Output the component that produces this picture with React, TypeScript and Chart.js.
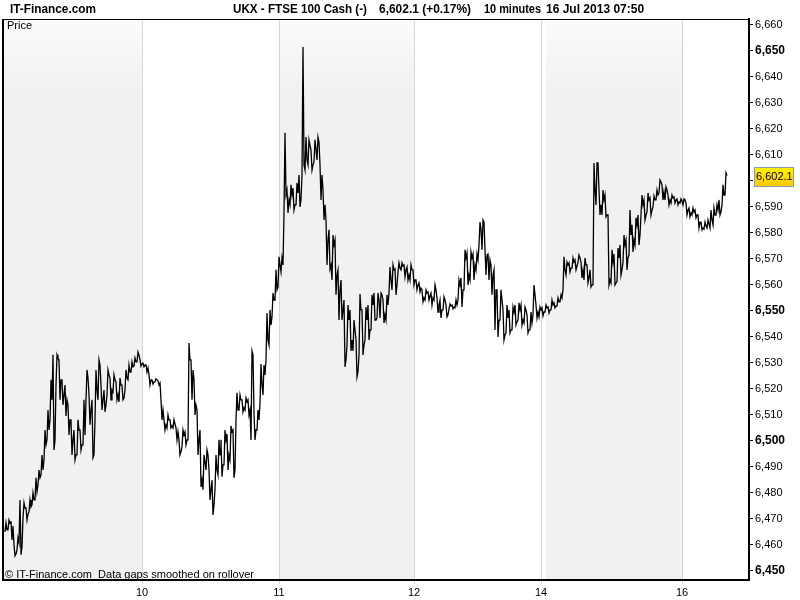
import React, { useEffect, useRef } from 'react';
import { Chart, registerables } from 'chart.js';

Chart.register(...registerables);

// ---- data (10-minute bars, one sample every STEP bars) ----
const STEP = 3;
const dayStartBars = [2, 140, 278, 413, 539, 680];

// closes
const jul09 = [6465.8, 6468.5, 6467.3, 6456.5, 6460.8, 6459.2, 6474.2, 6471.9, 6474.6, 6477.3, 6480.4, 6485.8, 6488.8, 6498.5, 6504.2, 6515.8, 6500.4, 6531.9, 6523.5, 6517.7, 6515.8, 6508.1, 6500.4, 6494.6, 6504.2, 6498.5, 6502.3, 6524.2, 6511.9, 6494.6, 6519.6, 6529.2, 6515.8, 6513.8, 6525.4, 6519.6, 6523.5, 6517.7, 6521.5, 6516.5, 6524.2, 6526.5, 6528.5, 6530.4, 6533.1, 6529.6];
const jul10 = [6529.2, 6528.1, 6523.5, 6522.7, 6523.5, 6522.3, 6511.9, 6506.2, 6508.1, 6505.8, 6506.5, 6503.5, 6495.8, 6502.3, 6500.4, 6531.2, 6527.3, 6513.8, 6500.4, 6485, 6491.9, 6494.6, 6481.2, 6475.4, 6488.8, 6494.6, 6490.8, 6500.4, 6494.6, 6503.5, 6488.8, 6511.9, 6515.8, 6512.7, 6515.1, 6511.9, 6533.1, 6504.2, 6508.1, 6521.5, 6525.4, 6538.8, 6544.6, 6554.2, 6558.1, 6567.7];
const jul11 = [6567.7, 6594.6, 6592.7, 6594.6, 6590.8, 6595.4, 6592.7, 6606.2, 6608.1, 6613.8, 6606.2, 6611.9, 6615, 6602.3, 6590.8, 6577.3, 6567.7, 6575.4, 6563.8, 6558.1, 6550.4, 6531.2, 6546.5, 6538.8, 6542.7, 6526.5, 6550.4, 6536.9, 6546.5, 6542.7, 6552.3, 6546.5, 6554.2, 6556.2, 6548.5, 6552.3, 6561.9, 6565.8, 6560, 6566.5, 6567.3, 6565.8, 6563.8, 6565.8, 6561.9];
const jul12 = [6560, 6558.8, 6555, 6556.9, 6555.8, 6555, 6558.1, 6552.3, 6550.4, 6554.2, 6548.5, 6551.9, 6551.5, 6552.3, 6560, 6558.1, 6570.4, 6563.8, 6570.4, 6567.7, 6569.6, 6581.2, 6584.2, 6571.5, 6569.6, 6563.8, 6558.1, 6546.5, 6554.2, 6540.8, 6547.3, 6542.7, 6549.6, 6545.8, 6550.4, 6546.5, 6550.4, 6542.7, 6545.4, 6556.2, 6549.6, 6550.4];
const jul15 = [6549.6, 6551.2, 6550.4, 6552.3, 6551.9, 6553.5, 6555, 6565.8, 6567.7, 6566.5, 6568.8, 6567.3, 6570.4, 6565.8, 6567.7, 6562.7, 6560, 6596.5, 6606.9, 6590.8, 6592.7, 6586.9, 6561.9, 6568.8, 6560.8, 6570.4, 6565.8, 6575.4, 6570.4, 6579.2, 6577.3, 6583.1, 6579.2, 6590.8, 6586.9, 6592.7, 6588.8, 6592.7, 6594.6, 6599.6, 6595.8, 6596.5, 6592.7, 6593.5, 6592.7, 6591.9, 6592.3];
const jul16 = [6592.7, 6588.8, 6587.7, 6588.1, 6586.9, 6584.2, 6581.9, 6582.7, 6583.5, 6585, 6586.9, 6588.8, 6588.1, 6594.6, 6602.1];

// highs within each sample window
const jul09Hi = [6468.5, 6469.6, 6468.8, 6460, 6462.7, 6477.3, 6476.2, 6474.2, 6477.3, 6480, 6485.8, 6488.8, 6494.6, 6504.2, 6511.9, 6523.5, 6533.1, 6533.1, 6531.2, 6523.5, 6521.5, 6513.8, 6508.1, 6504.2, 6508.1, 6504.2, 6515.8, 6527.3, 6517.7, 6515.8, 6527.3, 6531.2, 6521.5, 6519.6, 6527.3, 6524.2, 6525.4, 6522.7, 6524.2, 6521.5, 6527.3, 6529.2, 6530.4, 6531.9, 6534.2, 6531.2];
const jul10Hi = [6529.9, 6529.2, 6525.4, 6523.5, 6523.9, 6523.1, 6515.8, 6508.1, 6510, 6508.1, 6508.1, 6505, 6500.4, 6504.2, 6503.5, 6537.7, 6531.2, 6523.5, 6511.9, 6504.2, 6494.6, 6496.5, 6488.8, 6484.9, 6494.6, 6500.4, 6500.4, 6504.2, 6502.7, 6505.8, 6504.2, 6518.5, 6517.7, 6515.8, 6516.5, 6515.8, 6534.6, 6510.8, 6511.9, 6529.6, 6529.2, 6549.2, 6550.4, 6556.9, 6565.8, 6570.8];
const jul11Hi = [6570.4, 6618.5, 6596.5, 6598.5, 6597.3, 6599.2, 6602.3, 6651.5, 6616.9, 6615.8, 6611.9, 6615.8, 6616.9, 6606.2, 6596.5, 6585, 6581.2, 6579.2, 6577.3, 6565.8, 6561.9, 6554.2, 6552.3, 6550.4, 6546.5, 6538.8, 6556.5, 6550.4, 6551.5, 6552.3, 6556.2, 6556.9, 6556.9, 6556.9, 6554.2, 6556.2, 6566.9, 6567.7, 6566.2, 6568.5, 6568.5, 6567.7, 6566.9, 6567.7, 6565.8];
const jul12Hi = [6561.9, 6560.8, 6558.1, 6558.1, 6557.3, 6556.9, 6560, 6555, 6554.2, 6555.4, 6552.3, 6552.7, 6552.3, 6554.2, 6561.9, 6562.7, 6573.5, 6572.3, 6572.7, 6571.9, 6571.9, 6584.2, 6585, 6573.5, 6571.9, 6567.7, 6565.8, 6558.1, 6558.1, 6550.4, 6552.3, 6550.4, 6551.5, 6552.3, 6553.1, 6552.3, 6551.5, 6548.5, 6549.6, 6560, 6552.3, 6551.5];
const jul15Hi = [6551.2, 6552.3, 6551.5, 6554.2, 6553.1, 6555, 6556.2, 6570.8, 6568.8, 6568.5, 6570.4, 6569.6, 6571.5, 6568.8, 6570.4, 6567.7, 6565.8, 6606.9, 6606.9, 6596.5, 6596.5, 6594.6, 6586.9, 6573.5, 6571.9, 6574.2, 6575.4, 6579.2, 6577.3, 6588.8, 6583.1, 6585.8, 6586.9, 6594.6, 6592.7, 6595.4, 6593.5, 6594.2, 6596.5, 6600.4, 6598.5, 6597.7, 6594.6, 6594.6, 6593.9, 6593.1, 6593.1];
const jul16Hi = [6593.1, 6591.5, 6589.6, 6589.6, 6588.8, 6586.9, 6584.2, 6584.2, 6585, 6588.8, 6589.6, 6590.8, 6592.7, 6598.5, 6603.1];

// lows within each sample window
const jul09Lo = [6465, 6465.8, 6461.9, 6455.8, 6458.1, 6456.2, 6470.4, 6469.6, 6472.7, 6475.4, 6477.3, 6483.1, 6486.9, 6492.7, 6500.4, 6508.1, 6496.5, 6521.5, 6515.8, 6513.8, 6509.6, 6502.3, 6494.6, 6492.7, 6494.6, 6496.5, 6498.5, 6515.8, 6506.2, 6493.5, 6508.1, 6515.8, 6511.9, 6511.2, 6517.7, 6515.8, 6518.8, 6515.8, 6515, 6515.8, 6519.6, 6523.5, 6526.5, 6528.8, 6530.4, 6528.8];
const jul10Lo = [6528.5, 6526.5, 6521.5, 6521.9, 6522.7, 6521.5, 6508.1, 6504.2, 6505, 6505, 6505, 6500.4, 6494.6, 6497.7, 6498.5, 6500.4, 6515.8, 6510, 6494.6, 6482.3, 6481.2, 6488.8, 6477.3, 6471.5, 6481.2, 6486.9, 6486.2, 6490.8, 6488.8, 6492.7, 6485.8, 6508.1, 6511.9, 6511.2, 6511.9, 6510, 6500.4, 6500.4, 6504.2, 6514.6, 6517.7, 6531.2, 6536.9, 6547.7, 6554.2, 6559.2];
const jul11Lo = [6565, 6587.7, 6587.7, 6590.8, 6588.8, 6590.8, 6590, 6602.3, 6604.2, 6606.2, 6604.2, 6607.3, 6608.1, 6592.7, 6585, 6567.7, 6566.2, 6561.9, 6556.2, 6546.5, 6546.5, 6528.5, 6536.9, 6534.6, 6534.6, 6524.6, 6533.1, 6533.1, 6538.8, 6538.8, 6542.7, 6546.5, 6547.3, 6547.3, 6545.4, 6546.5, 6556.9, 6558.1, 6556.2, 6565, 6565.8, 6563.1, 6561.9, 6561.9, 6560];
const jul12Lo = [6558.1, 6557.3, 6553.5, 6554.2, 6554.2, 6552.3, 6554.2, 6549.6, 6547.3, 6550.4, 6547.7, 6550.8, 6550.8, 6551.2, 6554.2, 6551.5, 6558.1, 6560, 6561.9, 6561.9, 6565.8, 6575.4, 6573.5, 6563.8, 6561.9, 6556.2, 6542.7, 6540, 6546.5, 6538.8, 6541.5, 6541.5, 6542.7, 6544.6, 6546.5, 6544.6, 6545.4, 6541.5, 6542.7, 6548.5, 6547.3, 6547.7];
const jul15Lo = [6548.1, 6549.6, 6549.2, 6550.4, 6551.2, 6551.9, 6553.5, 6558.1, 6563.8, 6565, 6566.5, 6565.8, 6568.8, 6562.7, 6561.9, 6560.8, 6559.2, 6560, 6590.8, 6586.9, 6586.9, 6586.2, 6560, 6560.8, 6560, 6561.2, 6563.8, 6568.8, 6565.8, 6571.5, 6572.7, 6575.4, 6575.4, 6586.9, 6585, 6588.1, 6586.9, 6590, 6592.7, 6595.4, 6592.7, 6592.7, 6590.8, 6591.5, 6591.5, 6590.8, 6591.5];
const jul16Lo = [6590.8, 6586.9, 6586.2, 6586.9, 6585.8, 6581.9, 6581.2, 6581.5, 6581.9, 6581.9, 6583.1, 6586.9, 6586.9, 6590.8, 6594.6];

const days = [jul09, jul10, jul11, jul12, jul15, jul16];
const dayHighs = [jul09Hi, jul10Hi, jul11Hi, jul12Hi, jul15Hi, jul16Hi];
const dayLows = [jul09Lo, jul10Lo, jul11Lo, jul12Lo, jul15Lo, jul16Lo];

const dayTickBars = [139, 276, 411, 538, 679];
const dayTickLabels = ['10', '11', '12', '14', '16'];
const shadedBands = [[0, 139], [276, 411], [543, 679]];
const xMaxBar = 746;

const yTickValues = [6450, 6460, 6470, 6480, 6490, 6500, 6510, 6520, 6530, 6540, 6550, 6560, 6570, 6580, 6590, 6600, 6610, 6620, 6630, 6640, 6650, 6660];
const yMin = 6446.5;
const yMax = 6662.3;

const lastPrice = 6602.1;
const siteName = 'IT-Finance.com';
const headerParts = ['UKX - FTSE 100 Cash (-)', '6,602.1 (+0.17%)', '10 minutes', '16 Jul 2013 07:50'];
const panelLabel = 'Price';
const footerText = '\u00A9 IT-Finance.com  Data gaps smoothed on rollover';

const FONT = '"Liberation Sans", Arial, sans-serif';

const fmt = (v: number) => v.toLocaleString('en-US', { maximumFractionDigits: 1 });

const decorPlugin = {
  id: 'decor',
  beforeDraw(chart: any) {
    const { ctx, chartArea: a, scales } = chart;
    const x = scales.x;
    ctx.save();
    ctx.fillStyle = '#ffffff';
    ctx.fillRect(0, 0, chart.width, chart.height);
    const g = ctx.createLinearGradient(0, a.top, 0, a.top + 70);
    g.addColorStop(0, '#fbfbfb');
    g.addColorStop(1, '#f1f1f1');
    ctx.fillStyle = g;
    for (const [s, e] of shadedBands) {
      const x0 = x.getPixelForValue(s);
      const x1 = x.getPixelForValue(e);
      ctx.fillRect(x0, a.top, x1 - x0, a.bottom - a.top);
    }
    ctx.restore();
  },
  afterDraw(chart: any) {
    const { ctx, chartArea: a, scales } = chart;
    const y = scales.y;
    ctx.save();
    ctx.strokeStyle = '#000';
    ctx.lineWidth = 2;
    ctx.beginPath();
    ctx.moveTo(a.left, a.bottom + 1);
    ctx.lineTo(a.left, a.top);
    ctx.stroke();
    ctx.lineWidth = 1;
    ctx.beginPath();
    ctx.moveTo(a.left, a.top + 0.5);
    ctx.lineTo(a.right, a.top + 0.5);
    ctx.stroke();

    ctx.fillStyle = '#000';
    ctx.textBaseline = 'middle';
    ctx.textAlign = 'left';
    ctx.font = `bold 12px ${FONT}`;
    ctx.fillText(siteName, 10, 10, 86);
    const hx = [233, 379, 484, 546];
    const hw = [134, 92, 57, 103];
    headerParts.forEach((t, i) => ctx.fillText(t, hx[i], 10, hw[i]));

    ctx.font = `11px ${FONT}`;
    ctx.fillText(panelLabel, 7, 26);
    ctx.fillText(footerText, 5, 575);

    const py = y.getPixelForValue(lastPrice);
    const bx = 754.5, bw = 39, by = Math.round(py) - 7.5, bh = 19;
    const bg = ctx.createLinearGradient(0, by, 0, by + bh);
    bg.addColorStop(0, '#fff200');
    bg.addColorStop(1, '#ffc800');
    ctx.fillStyle = bg;
    ctx.fillRect(bx, by, bw, bh);
    ctx.strokeStyle = '#8a9bb0';
    ctx.lineWidth = 1;
    ctx.strokeRect(bx, by, bw, bh);
    ctx.fillStyle = '#000';
    ctx.font = `11px ${FONT}`;
    ctx.fillText(fmt(lastPrice), 756, by + bh / 2);
    ctx.restore();
  },
};

export default function App() {
  const ref = useRef<HTMLCanvasElement | null>(null);

  useEffect(() => {
    if (!ref.current) return;
    // Path through each window's extremes then its close, so the intrabar swings show.
    const points: { x: number; y: number }[] = [];
    let prev = days[0][0];
    days.forEach((vals, d) => {
      vals.forEach((v, i) => {
        const xb = dayStartBars[d] + i * STEP;
        const hi = dayHighs[d][i];
        const lo = dayLows[d][i];
        if (v >= prev) {
          points.push({ x: xb, y: lo });
          points.push({ x: xb + 1, y: hi });
        } else {
          points.push({ x: xb, y: hi });
          points.push({ x: xb + 1, y: lo });
        }
        points.push({ x: xb + 2, y: v });
        prev = v;
      });
    });

    const chart = new Chart(ref.current, {
      type: 'line',
      data: {
        datasets: [
          {
            data: points,
            borderColor: '#000',
            borderWidth: 1.3,
            pointRadius: 0,
            tension: 0,
            fill: false,
          },
        ],
      },
      plugins: [decorPlugin],
      options: {
        responsive: false,
        animation: false,
        devicePixelRatio: 1,
        layout: { padding: { left: 3, top: 19, right: 0, bottom: 0 } },
        plugins: { legend: { display: false }, tooltip: { enabled: false } },
        scales: {
          x: {
            type: 'linear',
            min: 0,
            max: xMaxBar,
            afterBuildTicks: (s: any) => {
              s.ticks = dayTickBars.map((v) => ({ value: v }));
            },
            afterFit: (s: any) => {
              s.height = 20;
            },
            ticks: {
              autoSkip: false,
              maxRotation: 0,
              padding: 2,
              color: '#000',
              font: { family: FONT, size: 11 },
              callback: (v: any) => {
                const i = dayTickBars.indexOf(Number(v));
                return i >= 0 ? dayTickLabels[i] : '';
              },
            },
            grid: { color: '#d6d6d6', lineWidth: 1, tickLength: 4, drawOnChartArea: true },
            border: { display: true, color: '#000', width: 2 },
          },
          y: {
            type: 'linear',
            position: 'right',
            min: yMin,
            max: yMax,
            afterBuildTicks: (s: any) => {
              s.ticks = yTickValues.map((v) => ({ value: v }));
            },
            afterFit: (s: any) => {
              s.width = 51;
            },
            ticks: {
              padding: 2,
              color: '#000',
              font: (c: any) => {
                const v = c.tick ? c.tick.value : 0;
                return v % 50 === 0
                  ? { family: FONT, size: 12, weight: 'bold' }
                  : { family: FONT, size: 11, weight: 'normal' };
              },
              callback: (v: any) => fmt(Number(v)),
            },
            grid: { drawOnChartArea: false, color: '#000', tickLength: 4 },
            border: { display: true, color: '#000', width: 2 },
          },
        },
      },
    } as any);

    return () => chart.destroy();
  }, []);

  return (
    <canvas
      ref={ref}
      width={800}
      height={600}
      style={{ position: 'fixed', left: 0, top: 0, width: 800, height: 600 }}
    />
  );
}
